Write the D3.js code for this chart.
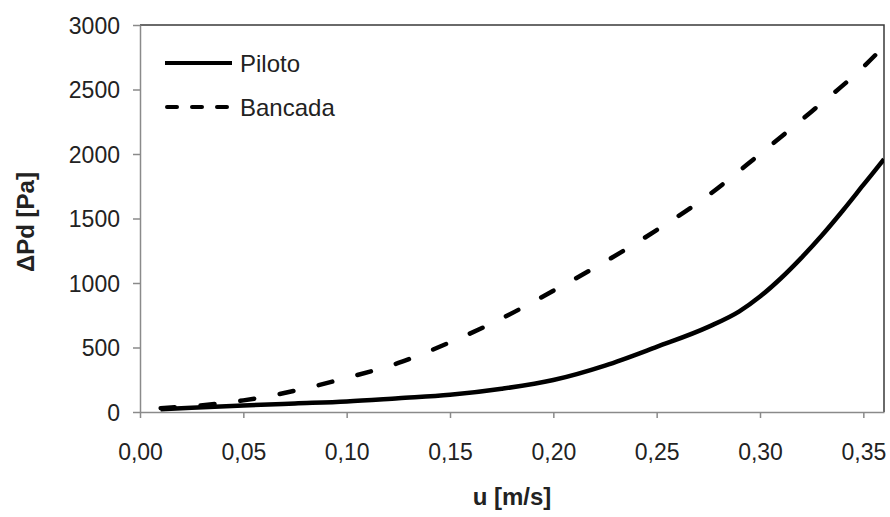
<!DOCTYPE html>
<html>
<head>
<meta charset="utf-8">
<script src="https://d3js.org/d3.v7.min.js"></script>
<style>
  body { margin: 0; background: #fff; }
  text { font-family: "Liberation Sans", Arial, sans-serif; }
</style>
</head>
<body>
<div id="my_dataviz"></div>
<script>
// chart data
var u_values = [0.01, 0.025, 0.05, 0.075, 0.10, 0.125, 0.15, 0.175, 0.20, 0.225, 0.25, 0.275, 0.29, 0.30, 0.31, 0.32, 0.33, 0.34, 0.35, 0.36];
var piloto = [22, 33, 50, 66, 82, 107, 133, 180, 248, 360, 505, 660, 780, 895, 1035, 1195, 1370, 1560, 1760, 1960];
var bancada_u = [0.01, 0.025, 0.05, 0.075, 0.10, 0.125, 0.15, 0.175, 0.20, 0.225, 0.25, 0.275, 0.30, 0.325, 0.35, 0.36];
var bancada = [30, 45, 90, 165, 265, 380, 540, 725, 940, 1165, 1410, 1680, 2000, 2330, 2675, 2835];
var x_ticks = [0, 0.05, 0.10, 0.15, 0.20, 0.25, 0.30, 0.35];
var y_ticks = [0, 500, 1000, 1500, 2000, 2500, 3000];
var series_names = ["Piloto", "Bancada"];

var width = 890;
var height = 517;
var svg, xScale, yScale;

document.addEventListener('DOMContentLoaded', function () {
    svg = d3.select("#my_dataviz").append("svg")
        .attr("width", width).attr("height", height);

    xScale = d3.scaleLinear().domain([0, 0.36]).range([140, 884]);
    yScale = d3.scaleLinear().domain([0, 3000]).range([412, 25]);

    svg.append("clipPath").attr("id", "plotclip")
        .append("rect").attr("x", 140).attr("y", 25).attr("width", 744).attr("height", 387);

    // top and right border of the plot
    svg.append("path")
        .attr("d", "M" + xScale(0) + "," + yScale(3000) + "H" + xScale(0.36) + "V" + yScale(0))
        .attr("fill", "none").attr("stroke", "#3a3a3a").attr("stroke-width", 1.5);

    var x_axis = svg.append("g").attr("transform", "translate(0," + yScale(0) + ")")
        .call(d3.axisBottom(xScale).tickValues(x_ticks).tickSize(6).tickSizeOuter(0)
            .tickFormat(d => d3.format(".2f")(d).replace(".", ",")));
    var y_axis = svg.append("g").attr("transform", "translate(" + xScale(0) + ",0)")
        .call(d3.axisLeft(yScale).tickValues(y_ticks).tickSize(7).tickSizeOuter(0)
            .tickFormat(d3.format("d")));

    [x_axis, y_axis].forEach(function (ax) {
        ax.select(".domain").attr("stroke", "#8a8a8a").attr("stroke-width", 1.5);
        ax.selectAll(".tick line").attr("stroke", "#8a8a8a").attr("stroke-width", 1.5);
        ax.selectAll(".tick text").attr("fill", "#222").style("font-size", "23px")
            .style("font-family", "'Liberation Sans', Arial, sans-serif");
    });
    x_axis.selectAll(".tick text").attr("dy", "0").attr("y", 48);
    y_axis.selectAll(".tick text").attr("x", -20).attr("dy", "0.36em");

    var line_p = d3.line().x((d, i) => xScale(u_values[i])).y(d => yScale(d)).curve(d3.curveMonotoneX);
    var line_b = d3.line().x((d, i) => xScale(bancada_u[i])).y(d => yScale(d)).curve(d3.curveMonotoneX);

    var plot = svg.append("g").attr("clip-path", "url(#plotclip)");
    plot.append("path").datum(bancada).attr("d", line_b)
        .attr("fill", "none").attr("stroke", "#000").attr("stroke-width", 4.5)
        .attr("stroke-dasharray", "14,26").attr("stroke-linecap", "round");
    plot.append("path").datum(piloto).attr("d", line_p)
        .attr("fill", "none").attr("stroke", "#000").attr("stroke-width", 4.5);

    // legend
    var legend = svg.append("g");
    legend.append("line").attr("x1", 165).attr("x2", 232).attr("y1", 63).attr("y2", 63)
        .attr("stroke", "#000").attr("stroke-width", 4);
    legend.append("line").attr("x1", 167).attr("x2", 230).attr("y1", 107).attr("y2", 107)
        .attr("stroke", "#000").attr("stroke-width", 4)
        .attr("stroke-dasharray", "10,15").attr("stroke-linecap", "round");
    legend.selectAll(".lg_text").data(series_names).enter().append("text")
        .attr("class", "lg_text")
        .attr("x", 240).attr("y", (d, i) => 63 + i * 44).attr("dy", "0.36em")
        .style("font-size", "24px").attr("fill", "#222").text(d => d);

    // axis titles
    svg.append("text").attr("x", 512).attr("y", 505).style("text-anchor", "middle")
        .style("font-size", "24px").style("font-weight", "bold").attr("fill", "#222")
        .text("u [m/s]");
    svg.append("text").attr("transform", "translate(34,222) rotate(-90)")
        .style("text-anchor", "middle").style("font-size", "24px").style("font-weight", "bold")
        .attr("fill", "#222").text("ΔPd [Pa]");
});
</script>
</body>
</html>
